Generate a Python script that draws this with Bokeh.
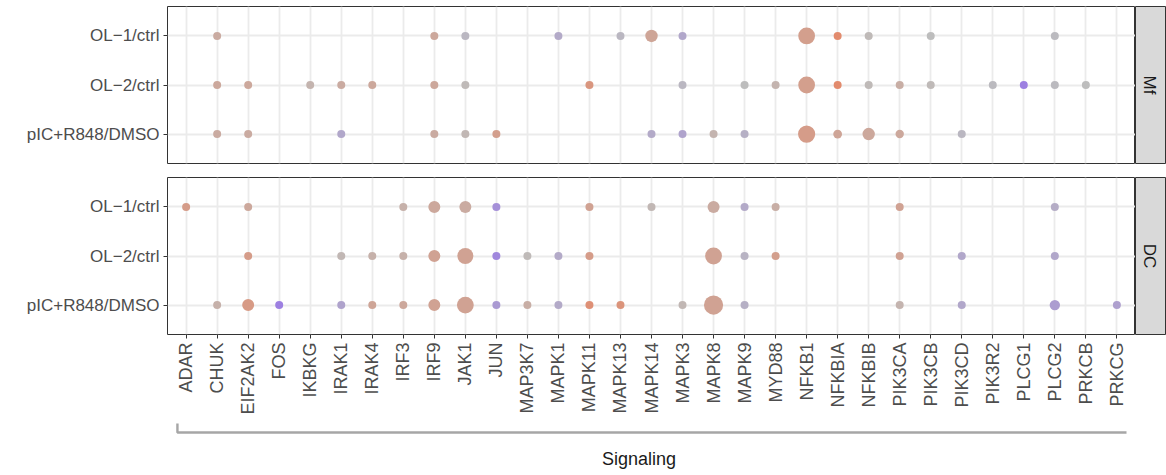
import math
from bokeh.plotting import figure
from bokeh.models import ColumnDataSource, Range1d, FixedTicker, LinearColorMapper
from bokeh.layouts import column, row
from bokeh.embed import file_html
from bokeh.resources import INLINE
from bokeh.core.properties import value
from bokeh.transform import transform

# ---------------- data ----------------
genes = ["ADAR", "CHUK", "EIF2AK2", "FOS", "IKBKG", "IRAK1", "IRAK4", "IRF3", "IRF9",
         "JAK1", "JUN", "MAP3K7", "MAPK1", "MAPK11", "MAPK13", "MAPK14", "MAPK3",
         "MAPK8", "MAPK9", "MYD88", "NFKB1", "NFKBIA", "NFKBIB", "PIK3CA", "PIK3CB",
         "PIK3CD", "PIK3R2", "PLCG1", "PLCG2", "PRKCB", "PRKCG"]
comparisons = ["OL\u22121/ctrl", "OL\u22122/ctrl", "pIC+R848/DMSO"]  # top -> bottom
cell_types = ["Mf", "DC"]
x_title = "Signaling"

# Mf
mf_ol1_gene = ["CHUK", "IRF9", "JAK1", "MAPK1", "MAPK13", "MAPK14", "MAPK3", "NFKB1",
               "NFKBIA", "NFKBIB", "PIK3CB", "PLCG2"]
mf_ol1_lfc = [0.3, 0.35, -0.1, -0.3, -0.1, 0.4, -0.35, 0.5, 0.85, 0.05, 0.0, -0.05]
mf_ol1_sig = [1, 1, 1, 1, 1, 2.1, 1, 3.2, 1, 1, 1, 1]

mf_ol2_gene = ["CHUK", "EIF2AK2", "IKBKG", "IRAK1", "IRAK4", "IRF9", "JAK1", "MAPK11",
               "MAPK3", "MAPK9", "MYD88", "NFKB1", "NFKBIA", "NFKBIB", "PIK3CA", "PIK3CB",
               "PIK3R2", "PLCG1", "PLCG2", "PRKCB"]
mf_ol2_lfc = [0.35, 0.35, 0.15, 0.3, 0.35, 0.35, 0.05, 0.65, -0.1, 0.0, 0.15, 0.5, 0.85,
              0.05, 0.25, 0.05, -0.05, -0.95, -0.05, 0.0]
mf_ol2_sig = [1, 1, 1, 1, 1, 1, 1, 1, 1, 1, 1, 3.2, 1, 1, 1, 1, 1, 1, 1, 1]

mf_pic_gene = ["CHUK", "EIF2AK2", "IRAK1", "IRF9", "JAK1", "JUN", "MAPK14", "MAPK3",
               "MAPK8", "MAPK9", "NFKB1", "NFKBIA", "NFKBIB", "PIK3CA", "PIK3CD"]
mf_pic_lfc = [0.3, 0.3, -0.35, 0.3, 0.1, 0.5, -0.3, -0.4, 0.15, -0.2, 0.55, 0.4, 0.35,
              0.35, -0.1]
mf_pic_sig = [1, 1, 1, 1, 1, 1, 1, 1, 1, 1, 3.3, 1.2, 2.1, 1.1, 1]

# DC
dc_ol1_gene = ["ADAR", "EIF2AK2", "IRF3", "IRF9", "JAK1", "JUN", "MAPK11", "MAPK14",
               "MAPK8", "MAPK9", "MYD88", "PIK3CA", "PLCG2"]
dc_ol1_lfc = [0.55, 0.35, 0.2, 0.35, 0.3, -0.7, 0.45, 0.1, 0.3, -0.3, 0.25, 0.45, -0.25]
dc_ol1_sig = [1, 1, 1, 2, 2, 1, 1, 1, 2, 1, 1, 1, 1]

dc_ol2_gene = ["EIF2AK2", "IRAK1", "IRAK4", "IRF3", "IRF9", "JAK1", "JUN", "MAP3K7",
               "MAPK1", "MAPK11", "MAPK8", "MAPK9", "MYD88", "PIK3CA", "PIK3CD", "PLCG2"]
dc_ol2_lfc = [0.55, 0.1, 0.2, 0.2, 0.45, 0.45, -0.85, 0.05, -0.3, 0.55, 0.45, -0.15,
              0.5, 0.45, -0.35, -0.35]
dc_ol2_sig = [1, 1, 1, 1, 2, 3, 1, 1, 1, 1, 3.2, 1, 1, 1, 1, 1]

dc_pic_gene = ["CHUK", "EIF2AK2", "FOS", "IRAK1", "IRAK4", "IRF3", "IRF9", "JAK1", "JUN",
               "MAP3K7", "MAPK1", "MAPK11", "MAPK13", "MAPK3", "MAPK8", "MAPK9", "PIK3CA",
               "PIK3CD", "PLCG2", "PRKCG"]
dc_pic_lfc = [0.2, 0.6, -0.95, -0.4, 0.4, 0.35, 0.45, 0.45, -0.55, 0.25, -0.3, 0.75, 0.7,
              0.1, 0.45, -0.2, 0.15, -0.35, -0.5, -0.45]
dc_pic_sig = [1, 2, 1, 1, 1, 1, 2, 3.2, 1, 1, 1, 1, 1, 1, 3.8, 1, 1, 1, 1.6, 1]

panel_data = {
    "Mf": [(comparisons[0], mf_ol1_gene, mf_ol1_lfc, mf_ol1_sig),
           (comparisons[1], mf_ol2_gene, mf_ol2_lfc, mf_ol2_sig),
           (comparisons[2], mf_pic_gene, mf_pic_lfc, mf_pic_sig)],
    "DC": [(comparisons[0], dc_ol1_gene, dc_ol1_lfc, dc_ol1_sig),
           (comparisons[1], dc_ol2_gene, dc_ol2_lfc, dc_ol2_sig),
           (comparisons[2], dc_pic_gene, dc_pic_lfc, dc_pic_sig)],
}

# ---------------- styling ----------------
FONT = "Liberation Sans"
TICK_COLOR = "#4d4d4d"
BORDER = "#333333"
GRID = "#ebebeb"
STRIP_FILL = "#d9d9d9"
Y_FS = "17px"
X_FS = "18px"


def make_palette(low, mid, high, n=256):
    pal = []
    for i in range(n):
        t = i / (n - 1) * 2 - 1
        a, b = (mid, low) if t < 0 else (mid, high)
        f = abs(t)
        c = [round(a[k] + (b[k] - a[k]) * f) for k in range(3)]
        pal.append("#%02x%02x%02x" % tuple(c))
    return pal


palette = make_palette((155, 125, 227), (189, 189, 189), (232, 130, 95))
cmapper = LinearColorMapper(palette=palette, low=-1, high=1)

n_genes = len(genes)
x_range = Range1d(-0.6, n_genes - 1 + 0.6)
ypos = {c: len(comparisons) - 1 - i for i, c in enumerate(comparisons)}

FRAME_W = 968
LEFT = 167
STRIP_W = 31


def build_source(cell):
    xs, ys, lfc, d = [], [], [], []
    for comp, g, l, s in panel_data[cell]:
        for gi, li, si in zip(g, l, s):
            xs.append(genes.index(gi))
            ys.append(ypos[comp])
            lfc.append(li)
            d.append(4 + 4 * si)
    return ColumnDataSource(dict(x=xs, y=ys, lfc=lfc, d=d))


def make_panel(cell, height, top, bottom, show_x):
    p = figure(width=LEFT + FRAME_W, height=height, x_range=x_range,
               y_range=Range1d(-0.6, len(comparisons) - 1 + 0.6),
               output_backend="svg", toolbar_location=None,
               min_border_left=LEFT, min_border_right=0,
               min_border_top=top, min_border_bottom=bottom)
    p.outline_line_color = BORDER
    p.outline_line_width = 1
    p.background_fill_color = "white"
    p.border_fill_color = "white"

    p.xaxis.ticker = FixedTicker(ticks=list(range(n_genes)))
    p.xaxis.major_label_overrides = {i: g for i, g in enumerate(genes)}
    p.yaxis.ticker = FixedTicker(ticks=list(ypos.values()))
    p.yaxis.major_label_overrides = {v: k for k, v in ypos.items()}

    for ax, fs in ((p.xaxis[0], X_FS), (p.yaxis[0], Y_FS)):
        ax.axis_line_color = None
        ax.major_tick_line_color = BORDER
        ax.major_tick_in = 0
        ax.major_tick_out = 4
        ax.minor_tick_line_color = None
        ax.major_label_text_font = FONT
        ax.major_label_text_font_size = fs
        ax.major_label_text_color = TICK_COLOR
        ax.major_label_standoff = 4
    p.xaxis.major_label_orientation = math.pi / 2
    if not show_x:
        p.xaxis.visible = False

    p.grid.grid_line_color = GRID
    p.grid.grid_line_width = 1.8
    p.xgrid.minor_grid_line_color = None

    src = build_source(cell)
    p.scatter("x", "y", size="d", source=src,
              fill_color=transform("lfc", cmapper), line_color=None)
    return p


def make_strip(label, height, top, bottom):
    s = figure(width=STRIP_W, height=height, x_range=Range1d(0, 1), y_range=Range1d(0, 1),
               output_backend="svg", toolbar_location=None,
               min_border_left=0, min_border_right=0,
               min_border_top=top, min_border_bottom=bottom,
               x_axis_location=None, y_axis_location=None)
    s.grid.visible = False
    s.background_fill_color = STRIP_FILL
    s.border_fill_color = "white"
    s.outline_line_color = BORDER
    s.outline_line_width = 1
    s.text(x=[0.45], y=[0.5], text=[label], angle=-math.pi / 2,
           text_align="center", text_baseline="middle",
           text_font=value(FONT), text_font_size=Y_FS, text_color="#1a1a1a")
    return s


top_h, top_t, top_b = 177, 6, 14
bot_h, bot_t, bot_b = 243, 0, 86

p1 = make_panel("Mf", top_h, top_t, top_b, show_x=False)
s1 = make_strip("Mf", top_h, top_t, top_b)
p2 = make_panel("DC", bot_h, bot_t, bot_b, show_x=True)
s2 = make_strip("DC", bot_h, bot_t, bot_b)

# bracket with axis title
BR_H = 55
pb = figure(width=LEFT + FRAME_W, height=BR_H, x_range=x_range, y_range=Range1d(0, BR_H),
            output_backend="svg", toolbar_location=None,
            min_border_left=LEFT, min_border_right=0, min_border_top=0, min_border_bottom=0,
            x_axis_location=None, y_axis_location=None)
pb.grid.visible = False
pb.outline_line_color = None
pb.background_fill_color = None
pb.border_fill_color = None
bx0, bx1 = -0.28, n_genes - 1 + 0.31
pb.line(x=[bx0, bx0, bx1], y=[52, 43, 43], line_color="#a6a6a6", line_width=2.4)
pb.text(x=[14.6], y=[17], text=[x_title], text_align="center", text_baseline="middle",
        text_font=value(FONT), text_font_size="18px", text_color="#1a1a1a")

layout = column(row(p1, s1), row(p2, s2), pb)

with open("out.html", "w") as f:
    f.write(file_html(layout, INLINE))
